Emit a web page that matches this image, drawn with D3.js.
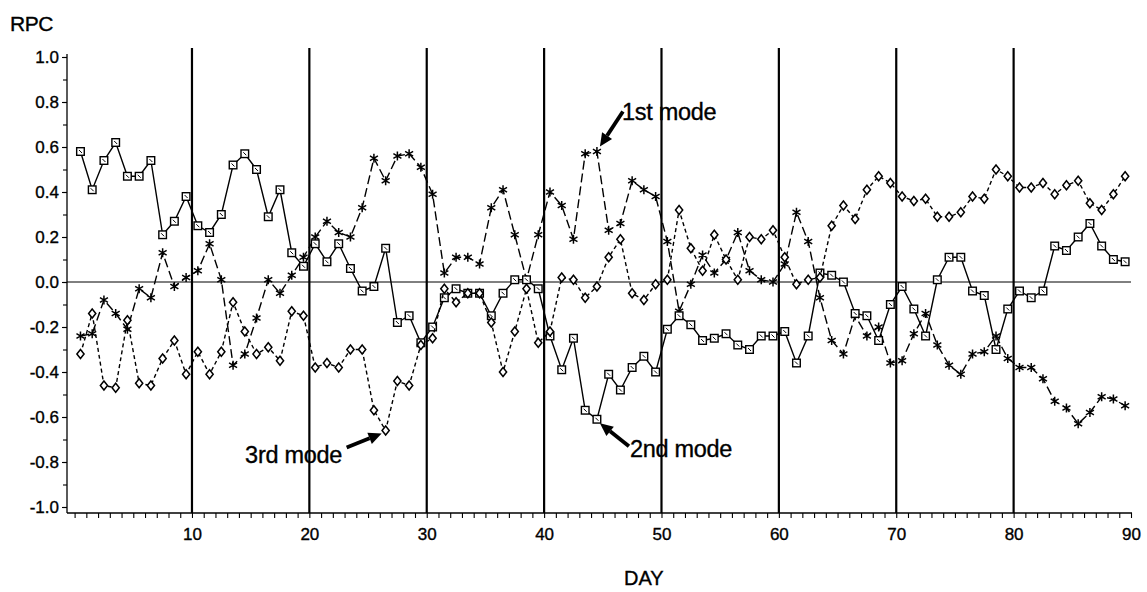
<!DOCTYPE html>
<html>
<head>
<meta charset="utf-8">
<script src="https://cdn.jsdelivr.net/npm/d3@7"></script>
<style>
  body { margin: 0; background: #fff; }
  svg text { font-family: "Liberation Sans", Arial, sans-serif; fill: #000; stroke: #000; stroke-width: 0.35px; }
</style>
</head>
<body>
<div id="chart"></div>
<script>
const width = 1147, height = 592;

// data: RPC modes by day
const days = d3.range(1, 91);

const mode1 = [-0.24, -0.23, -0.08, -0.14, -0.21, -0.03, -0.07, 0.13, -0.02, 0.02,
  0.05, 0.17, 0.01, -0.37, -0.32, -0.16, 0.01, -0.05, 0.03, 0.11,
  0.20, 0.27, 0.22, 0.20, 0.33, 0.55, 0.45, 0.56, 0.57, 0.51,
  0.39, 0.04, 0.11, 0.11, 0.08, 0.33, 0.41, 0.21, 0.01, 0.21,
  0.40, 0.34, 0.19, 0.57, 0.58, 0.23, 0.26, 0.45, 0.41, 0.38,
  0.18, -0.13, -0.01, 0.12, 0.04, 0.10, 0.22, 0.05, 0.01, 0.00,
  0.08, 0.31, 0.18, -0.07, -0.26, -0.32, -0.15, -0.24, -0.20, -0.36,
  -0.35, -0.23, -0.14, -0.28, -0.37, -0.41, -0.32, -0.31, -0.24, -0.34,
  -0.38, -0.38, -0.43, -0.53, -0.56, -0.63, -0.58, -0.51, -0.52, -0.55];

const mode2 = [0.58, 0.41, 0.54, 0.62, 0.47, 0.47, 0.54, 0.21, 0.27, 0.38,
  0.25, 0.22, 0.30, 0.52, 0.57, 0.50, 0.29, 0.41, 0.13, 0.07,
  0.17, 0.09, 0.17, 0.06, -0.04, -0.02, 0.15, -0.18, -0.15, -0.27,
  -0.20, -0.07, -0.03, -0.05, -0.05, -0.15, -0.05, 0.01, 0.01, -0.03,
  -0.24, -0.39, -0.25, -0.57, -0.61, -0.41, -0.48, -0.38, -0.33, -0.40,
  -0.21, -0.15, -0.19, -0.26, -0.25, -0.23, -0.28, -0.30, -0.24, -0.24,
  -0.22, -0.36, -0.24, 0.04, 0.03, 0.00, -0.14, -0.15, -0.26, -0.10,
  -0.02, -0.12, -0.24, 0.01, 0.11, 0.11, -0.04, -0.06, -0.30, -0.12,
  -0.04, -0.07, -0.04, 0.16, 0.14, 0.20, 0.26, 0.16, 0.10, 0.09];

const mode3 = [-0.32, -0.14, -0.46, -0.47, -0.17, -0.45, -0.46, -0.34, -0.26, -0.41,
  -0.31, -0.41, -0.31, -0.09, -0.22, -0.32, -0.29, -0.35, -0.13, -0.15,
  -0.38, -0.36, -0.38, -0.30, -0.30, -0.57, -0.66, -0.44, -0.46, -0.28,
  -0.25, -0.03, -0.09, -0.05, -0.05, -0.18, -0.40, -0.22, -0.03, -0.27,
  -0.22, 0.02, 0.01, -0.07, -0.02, 0.11, 0.19, -0.05, -0.08, -0.01,
  0.01, 0.32, 0.15, 0.05, 0.21, 0.10, 0.01, 0.20, 0.19, 0.23,
  0.11, -0.01, 0.01, 0.02, 0.25, 0.34, 0.28, 0.41, 0.47, 0.44,
  0.38, 0.36, 0.37, 0.29, 0.29, 0.31, 0.38, 0.37, 0.50, 0.47,
  0.42, 0.42, 0.44, 0.39, 0.43, 0.45, 0.35, 0.32, 0.39, 0.47];

const yTicks = d3.range(-5, 6).map(i => i / 5);
const yMinorTicks = d3.range(-10, 11).map(i => i / 10);
const xTicks = d3.range(0, 91);
const dividers = [10, 20, 30, 40, 50, 60, 70, 80];

// points sit in the middle of each day
const offset = 0.5;

const x = d3.scaleLinear().domain([0, 90]).range([74.6, 1131]);
const y = d3.scaleLinear().domain([-1, 1]).range([507, 57]);

const axisX = 67, axisY = 513;

const svg = d3.select('#chart')
  .append('svg')
  .attr('width', width)
  .attr('height', height);

// vertical day dividers
svg.append('g')
  .selectAll('line')
  .data(dividers)
  .enter()
  .append('line')
  .attr('x1', d => x(d)).attr('x2', d => x(d))
  .attr('y1', 48).attr('y2', axisY)
  .attr('stroke', '#000')
  .attr('stroke-width', 2.2);

// zero line
svg.append('line')
  .attr('x1', axisX).attr('x2', x(90))
  .attr('y1', y(0)).attr('y2', y(0))
  .attr('stroke', '#000')
  .attr('stroke-width', 1);

// axes
svg.append('line')
  .attr('x1', axisX).attr('x2', axisX)
  .attr('y1', 54).attr('y2', axisY)
  .attr('stroke', '#000').attr('stroke-width', 1.3);

svg.append('line')
  .attr('x1', axisX).attr('x2', x(90) + 1)
  .attr('y1', axisY).attr('y2', axisY)
  .attr('stroke', '#000').attr('stroke-width', 1.3);

const fmt = d => (Math.abs(d) < 1e-9 ? 0 : d).toFixed(1);

svg.append('g')
  .attr('transform', `translate(${axisX},0)`)
  .call(d3.axisLeft(y).tickValues(yMinorTicks).tickSize(4).tickFormat(''))
  .call(g => g.select('.domain').remove());

svg.append('g')
  .attr('transform', `translate(${axisX},0)`)
  .call(d3.axisLeft(y).tickValues(yTicks).tickSize(5).tickPadding(3).tickFormat(fmt))
  .call(g => g.select('.domain').remove())
  .call(g => g.selectAll('text').style('font-size', '17px').attr('fill', '#000'));

svg.append('g')
  .attr('transform', `translate(0,${axisY})`)
  .call(d3.axisBottom(x).tickValues(xTicks).tickSize(5).tickPadding(10)
    .tickFormat(d => (d > 0 && d % 10 === 0) ? d : ''))
  .call(g => g.select('.domain').remove())
  .call(g => g.selectAll('text').style('font-size', '17px').attr('fill', '#000'));

svg.selectAll('.tick line').attr('stroke', '#000').attr('stroke-width', 1.1);

// axis titles
svg.append('text')
  .attr('x', 10).attr('y', 31)
  .style('font-size', '21px')
  .style('letter-spacing', '-0.5px')
  .text('RPC');

svg.append('text')
  .attr('x', x(48.5)).attr('y', 585)
  .attr('text-anchor', 'middle')
  .style('font-size', '20px')
  .text('DAY');

// series
const series = [
  { name: 'mode1', values: mode1, dash: '9,4', marker: 'star' },
  { name: 'mode2', values: mode2, dash: null, marker: 'square' },
  { name: 'mode3', values: mode3, dash: '4,3', marker: 'diamond' }
];

const line = d3.line()
  .x(d => x(d.day - offset))
  .y(d => y(d.v));

series.forEach(s => {
  const pts = days.map((day, i) => ({ day: day, v: s.values[i] }));

  svg.append('path')
    .datum(pts)
    .attr('d', line)
    .attr('fill', 'none')
    .attr('stroke', '#000')
    .attr('stroke-width', 1.4)
    .attr('stroke-dasharray', s.dash);

  const g = svg.append('g').attr('class', 'markers-' + s.name);

  const m = g.selectAll('g')
    .data(pts)
    .enter()
    .append('g')
    .attr('transform', d => `translate(${x(d.day - offset)},${y(d.v)})`);

  if (s.marker === 'square') {
    m.append('rect')
      .attr('x', -3.8).attr('y', -3.8)
      .attr('width', 7.6).attr('height', 7.6)
      .attr('fill', '#fff')
      .attr('stroke', '#000').attr('stroke-width', 1.4);
    m.append('line')
      .attr('x1', -1.5).attr('y1', -1.5).attr('x2', 1.5).attr('y2', 1.5)
      .attr('stroke', '#000').attr('stroke-width', 1);
  } else if (s.marker === 'diamond') {
    m.append('path')
      .attr('d', 'M0,-4.5L3.6,0L0,4.5L-3.6,0Z')
      .attr('fill', '#fff')
      .attr('stroke', '#000').attr('stroke-width', 1.5);
  } else {
    m.append('path')
      .attr('d', 'M0,-4.6V4.6M-4,-2.3L4,2.3M-4,2.3L4,-2.3')
      .attr('stroke', '#000').attr('stroke-width', 1.5);
  }
});

// annotations
const notes = [
  { label: '1st mode', values: mode1, day: 45, head: [3, -5], tail: [26, -40], tx: 622, ty: 120, anchor: 'start' },
  { label: '2nd mode', values: mode2, day: 45, head: [3, 4], tail: [32, 27], tx: 630, ty: 457, anchor: 'start' },
  { label: '3rd mode', values: mode3, day: 27, head: [-4, 3], tail: [-39, 17], tx: 342, ty: 463, anchor: 'end' }
];

notes.forEach(n => {
  const px = x(n.day - offset), py = y(n.values[n.day - 1]);
  const hx = px + n.head[0], hy = py + n.head[1];
  const sx = px + n.tail[0], sy = py + n.tail[1];
  const ang = Math.atan2(hy - sy, hx - sx);
  const len = 13, half = 6;
  const bx = hx - len * Math.cos(ang), by = hy - len * Math.sin(ang);

  svg.append('line')
    .attr('x1', sx).attr('y1', sy).attr('x2', bx).attr('y2', by)
    .attr('stroke', '#000').attr('stroke-width', 3.8);

  svg.append('path')
    .attr('d', `M${hx},${hy}L${bx + half * Math.sin(ang)},${by - half * Math.cos(ang)}L${bx - half * Math.sin(ang)},${by + half * Math.cos(ang)}Z`)
    .attr('fill', '#000');

  svg.append('text')
    .attr('x', n.tx).attr('y', n.ty)
    .attr('text-anchor', n.anchor)
    .style('font-size', '23.5px')
    .style('letter-spacing', '-0.3px')
    .text(n.label);
});
</script>
</body>
</html>
